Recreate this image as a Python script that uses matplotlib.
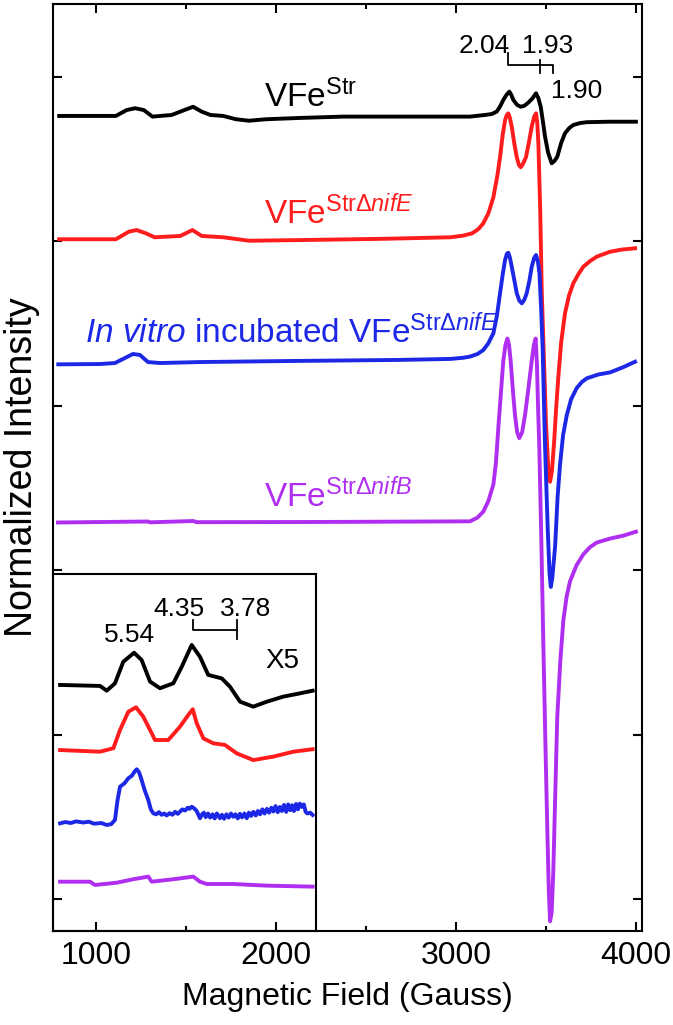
import matplotlib.pyplot as plt

plt.rcParams['font.family'] = ['Liberation Sans', 'DejaVu Sans']
plt.rcParams['mathtext.fontset'] = 'custom'
plt.rcParams['mathtext.rm'] = 'Liberation Sans'
plt.rcParams['mathtext.it'] = 'Liberation Sans:italic'

# main spectra (field in Gauss, normalized intensity, offset stacked)
black_field = [796, 1111, 1171, 1218, 1266, 1314, 1421, 1492, 1540, 1588, 1636, 1707, 1778, 1850,
               1946, 2136, 2374, 2852, 3078, 3162, 3200, 3227, 3245, 3263, 3280, 3297, 3308, 3319,
               3340, 3360, 3380, 3402, 3425, 3445, 3458, 3471, 3483, 3495, 3512, 3532, 3548, 3563,
               3585, 3606, 3630, 3652, 3690, 3727, 3856, 4000]
black_int = [4.763, 4.763, 4.799, 4.810, 4.799, 4.759, 4.769, 4.799, 4.819, 4.789, 4.769, 4.763, 4.743,
             4.734, 4.743, 4.751, 4.759, 4.759, 4.759, 4.769, 4.775, 4.790, 4.820, 4.860, 4.890, 4.911,
             4.890, 4.860, 4.830, 4.819, 4.825, 4.844, 4.870, 4.901, 4.870, 4.819, 4.730, 4.637, 4.540,
             4.475, 4.490, 4.515, 4.600, 4.658, 4.690, 4.708, 4.720, 4.725, 4.728, 4.728]

red_field = [796, 1111, 1183, 1226, 1278, 1326, 1469, 1536, 1588, 1707, 1850, 2136, 2613, 2971, 3040,
             3090, 3125, 3152, 3180, 3208, 3230, 3245, 3260, 3273, 3283, 3291, 3300, 3310, 3325, 3338,
             3350, 3360, 3372, 3389, 3405, 3421, 3435, 3445, 3452, 3458, 3468, 3477, 3490, 3501, 3513,
             3523, 3533, 3545, 3557, 3569, 3585, 3606, 3628, 3652, 3680, 3708, 3745, 3782, 3856, 3920,
             3995]
red_int = [4.013, 4.013, 4.059, 4.069, 4.049, 4.025, 4.033, 4.069, 4.033, 4.025, 4.004, 4.008, 4.016,
           4.025, 4.035, 4.049, 4.075, 4.110, 4.170, 4.268, 4.400, 4.512, 4.650, 4.738, 4.770, 4.779,
           4.750, 4.698, 4.590, 4.512, 4.465, 4.451, 4.470, 4.512, 4.600, 4.698, 4.760, 4.779, 4.720,
           4.597, 4.200, 3.684, 3.250, 2.873, 2.620, 2.538, 2.600, 2.772, 2.990, 3.177, 3.390, 3.563,
           3.670, 3.745, 3.800, 3.846, 3.880, 3.907, 3.937, 3.950, 3.958]

blue_field = [791, 1023, 1106, 1162, 1206, 1245, 1289, 1356, 1579, 2135, 2690, 2969, 3040, 3078, 3120,
              3152, 3180, 3208, 3228, 3245, 3260, 3273, 3283, 3291, 3300, 3310, 3325, 3338, 3352, 3366,
              3380, 3393, 3408, 3421, 3435, 3445, 3455, 3464, 3473, 3482, 3495, 3510, 3520, 3527, 3535,
              3551, 3565, 3578, 3595, 3616, 3640, 3671, 3700, 3727, 3790, 3856, 3930, 3995]
blue_int = [3.252, 3.254, 3.260, 3.291, 3.315, 3.309, 3.266, 3.260, 3.266, 3.273, 3.279, 3.285, 3.292,
            3.299, 3.315, 3.339, 3.380, 3.441, 3.550, 3.684, 3.800, 3.887, 3.925, 3.931, 3.900, 3.846,
            3.760, 3.684, 3.640, 3.623, 3.645, 3.684, 3.760, 3.846, 3.900, 3.917, 3.880, 3.806, 3.600,
            3.339, 2.755, 2.250, 1.980, 1.898, 1.950, 2.145, 2.450, 2.638, 2.820, 2.944, 3.040, 3.108,
            3.145, 3.167, 3.190, 3.203, 3.235, 3.268]

purple_field = [789, 1290, 1300, 1540, 1560, 2200, 3078, 3120, 3152, 3180, 3208, 3222, 3236, 3250, 3263,
                3275, 3286, 3295, 3304, 3316, 3328, 3340, 3352, 3368, 3384, 3402, 3421, 3433, 3443, 3450,
                3456, 3463, 3475, 3485, 3497, 3508, 3516, 3523, 3532, 3541, 3552, 3563, 3580, 3597, 3615,
                3634, 3670, 3708, 3745, 3782, 3856, 3930, 4000]
purple_int = [2.290, 2.296, 2.291, 2.299, 2.292, 2.293, 2.297, 2.320, 2.356, 2.420, 2.521, 2.650, 2.873,
              3.080, 3.273, 3.370, 3.409, 3.370, 3.273, 3.100, 2.944, 2.840, 2.803, 2.840, 2.944, 3.100,
              3.273, 3.370, 3.409, 3.250, 3.000, 2.755, 2.150, 1.580, 0.950, 0.404, 0.050, -0.136,
              -0.080, 0.170, 0.650, 1.110, 1.450, 1.698, 1.840, 1.933, 2.030, 2.097, 2.140, 2.168, 2.192,
              2.210, 2.234]

# inset, low-field region x5
in_black_field = [801, 1023, 1060, 1106, 1152, 1212, 1254, 1301, 1356, 1430, 1477, 1532, 1578, 1624,
                  1699, 1745, 1801, 1874, 1949, 2041, 2134, 2204]
in_black_int = [1.302, 1.296, 1.267, 1.312, 1.443, 1.498, 1.454, 1.322, 1.282, 1.312, 1.413, 1.545,
                1.474, 1.363, 1.342, 1.291, 1.200, 1.170, 1.200, 1.231, 1.251, 1.267]

in_red_field = [801, 1023, 1097, 1134, 1180, 1223, 1263, 1310, 1328, 1402, 1467, 1513, 1538, 1560, 1597,
                1652, 1717, 1782, 1874, 1986, 2097, 2204]
in_red_int = [0.906, 0.896, 0.917, 1.028, 1.139, 1.166, 1.109, 1.008, 0.967, 0.967, 1.048, 1.119, 1.154,
              1.069, 0.977, 0.947, 0.937, 0.886, 0.845, 0.866, 0.896, 0.911]

in_blue = [(801, 0.460), (830, 0.468), (860, 0.462), (890, 0.472), (930, 0.465), (960, 0.470),
           (990, 0.458), (1030, 0.462), (1060, 0.450), (1085, 0.455), (1106, 0.481), (1120, 0.600),
           (1134, 0.683), (1160, 0.705), (1180, 0.734), (1200, 0.750), (1215, 0.775), (1227, 0.789),
           (1240, 0.770), (1254, 0.724), (1270, 0.665), (1291, 0.602), (1305, 0.545), (1319, 0.521),
           (1335, 0.515), (1350, 0.528), (1365, 0.512), (1380, 0.520), (1393, 0.508), (1410, 0.522),
           (1425, 0.512), (1440, 0.530), (1455, 0.518), (1467, 0.531), (1480, 0.545), (1495, 0.538),
           (1510, 0.555), (1520, 0.548), (1532, 0.561), (1545, 0.552), (1560, 0.535), (1578, 0.491),
           (1590, 0.515), (1600, 0.525), (1610, 0.498), (1623, 0.520), (1635, 0.495), (1648, 0.515),
           (1660, 0.490), (1672, 0.520), (1689, 0.491), (1700, 0.512), (1712, 0.488), (1725, 0.515),
           (1738, 0.495), (1750, 0.520), (1763, 0.500), (1775, 0.515), (1788, 0.490), (1800, 0.518),
           (1812, 0.496), (1825, 0.520), (1838, 0.491), (1850, 0.525), (1862, 0.505), (1875, 0.530),
           (1888, 0.508), (1900, 0.535), (1912, 0.515), (1925, 0.545), (1937, 0.520), (1950, 0.548),
           (1962, 0.525), (1975, 0.555), (1986, 0.532), (1998, 0.565), (2010, 0.528), (2022, 0.560),
           (2033, 0.535), (2045, 0.572), (2057, 0.530), (2068, 0.575), (2080, 0.540), (2090, 0.570),
           (2100, 0.535), (2112, 0.578), (2122, 0.545), (2133, 0.580), (2143, 0.560), (2155, 0.575),
           (2165, 0.530), (2175, 0.520), (2190, 0.525), (2204, 0.511)]
in_blue_field, in_blue_int = zip(*in_blue)

in_purple_field = [801, 967, 995, 1116, 1208, 1291, 1310, 1430, 1541, 1578, 1616, 1763, 1949, 2204]
in_purple_int = [0.105, 0.105, 0.085, 0.099, 0.120, 0.136, 0.105, 0.120, 0.136, 0.105, 0.091, 0.091,
                 0.081, 0.075]

c_black = 'black'
c_red = '#ff1c1c'
c_blue = '#1c28e6'
c_purple = '#b02ef0'
lw = 2.8

fig = plt.figure(figsize=(6.73, 10.25), dpi=100)
ax = fig.add_axes([0.0783, 0.0917, 0.8752, 0.9044])

ax.plot(black_field, black_int, color=c_black, lw=lw)
ax.plot(red_field, red_int, color=c_red, lw=lw)
ax.plot(blue_field, blue_int, color=c_blue, lw=lw)
ax.plot(purple_field, purple_int, color=c_purple, lw=lw)

ax.set_xlim(760, 4032)
ax.set_ylim(-0.195, 5.444)
ax.set_xticks([1000, 2000, 3000, 4000])
ax.set_xticks([1500, 2500, 3500], minor=True)
ax.set_yticks([0, 1, 2, 3, 4, 5])
ax.set_yticklabels([])
ax.tick_params(which='both', direction='in', top=True, right=True, width=1.5)
ax.tick_params(which='major', length=6.5, labelsize=23, pad=7)
ax.tick_params(which='minor', length=3.5)
for s in ax.spines.values():
    s.set_linewidth(1.5)
ax.set_xlabel('Magnetic Field (Gauss)', fontsize=23, labelpad=8)
ax.set_ylabel('Normalized Intensity', fontsize=27, labelpad=2)

# curve labels
ax.text(1934, 4.818, r'VFe$^{\mathrm{Str}}$', fontsize=24, color=c_black)
ax.text(1934, 4.106, r'VFe$^{\mathrm{Str\Delta}\mathit{nifE}}$', fontsize=24, color=c_red)
ax.text(940, 3.382, r'$\mathit{In\ vitro}$ incubated VFe$^{\mathrm{Str\Delta}\mathit{nifE}}$',
        fontsize=24, color=c_blue)
ax.text(1934, 2.384, r'VFe$^{\mathrm{Str\Delta}\mathit{nifB}}$', fontsize=24, color=c_purple)

# g values, high field
ax.text(3157, 5.146, '2.04', fontsize=19, ha='center', va='baseline')
ax.text(3512, 5.146, '1.93', fontsize=19, ha='center', va='baseline')
ax.text(3668, 4.872, '1.90', fontsize=19, ha='center', va='baseline')
ax.plot([3288, 3288, 3541, 3541], [5.146, 5.073, 5.073, 5.026], color='black', lw=1.3)
ax.plot([3467, 3467], [5.103, 5.026], color='black', lw=1.3)

# inset
ins = fig.add_axes([0.0783, 0.0917, 0.3908, 0.3483])
ins.patch.set_alpha(0)
ins.plot(in_black_field, in_black_int, color=c_black, lw=lw)
ins.plot(in_red_field, in_red_int, color=c_red, lw=lw)
ins.plot(in_blue_field, in_blue_int, color=c_blue, lw=lw)
ins.plot(in_purple_field, in_purple_int, color=c_purple, lw=lw)
ins.set_xlim(760, 2221)
ins.set_ylim(-0.195, 1.977)
ins.set_xticks([])
ins.set_yticks([])
for s in ins.spines.values():
    s.set_linewidth(1.5)

ins.text(1189, 1.563, '5.54', fontsize=19, ha='center', va='baseline')
ins.text(1459, 1.721, '4.35', fontsize=19, ha='center', va='baseline')
ins.text(1834, 1.721, '3.78', fontsize=19, ha='center', va='baseline')
ins.text(1940, 1.405, 'X5', fontsize=20, va='baseline')
ins.plot([1538, 1538, 1786], [1.697, 1.636, 1.636], color='black', lw=1.3)
ins.plot([1786, 1786], [1.697, 1.582], color='black', lw=1.3)

fig.savefig('out.png', dpi=100)
